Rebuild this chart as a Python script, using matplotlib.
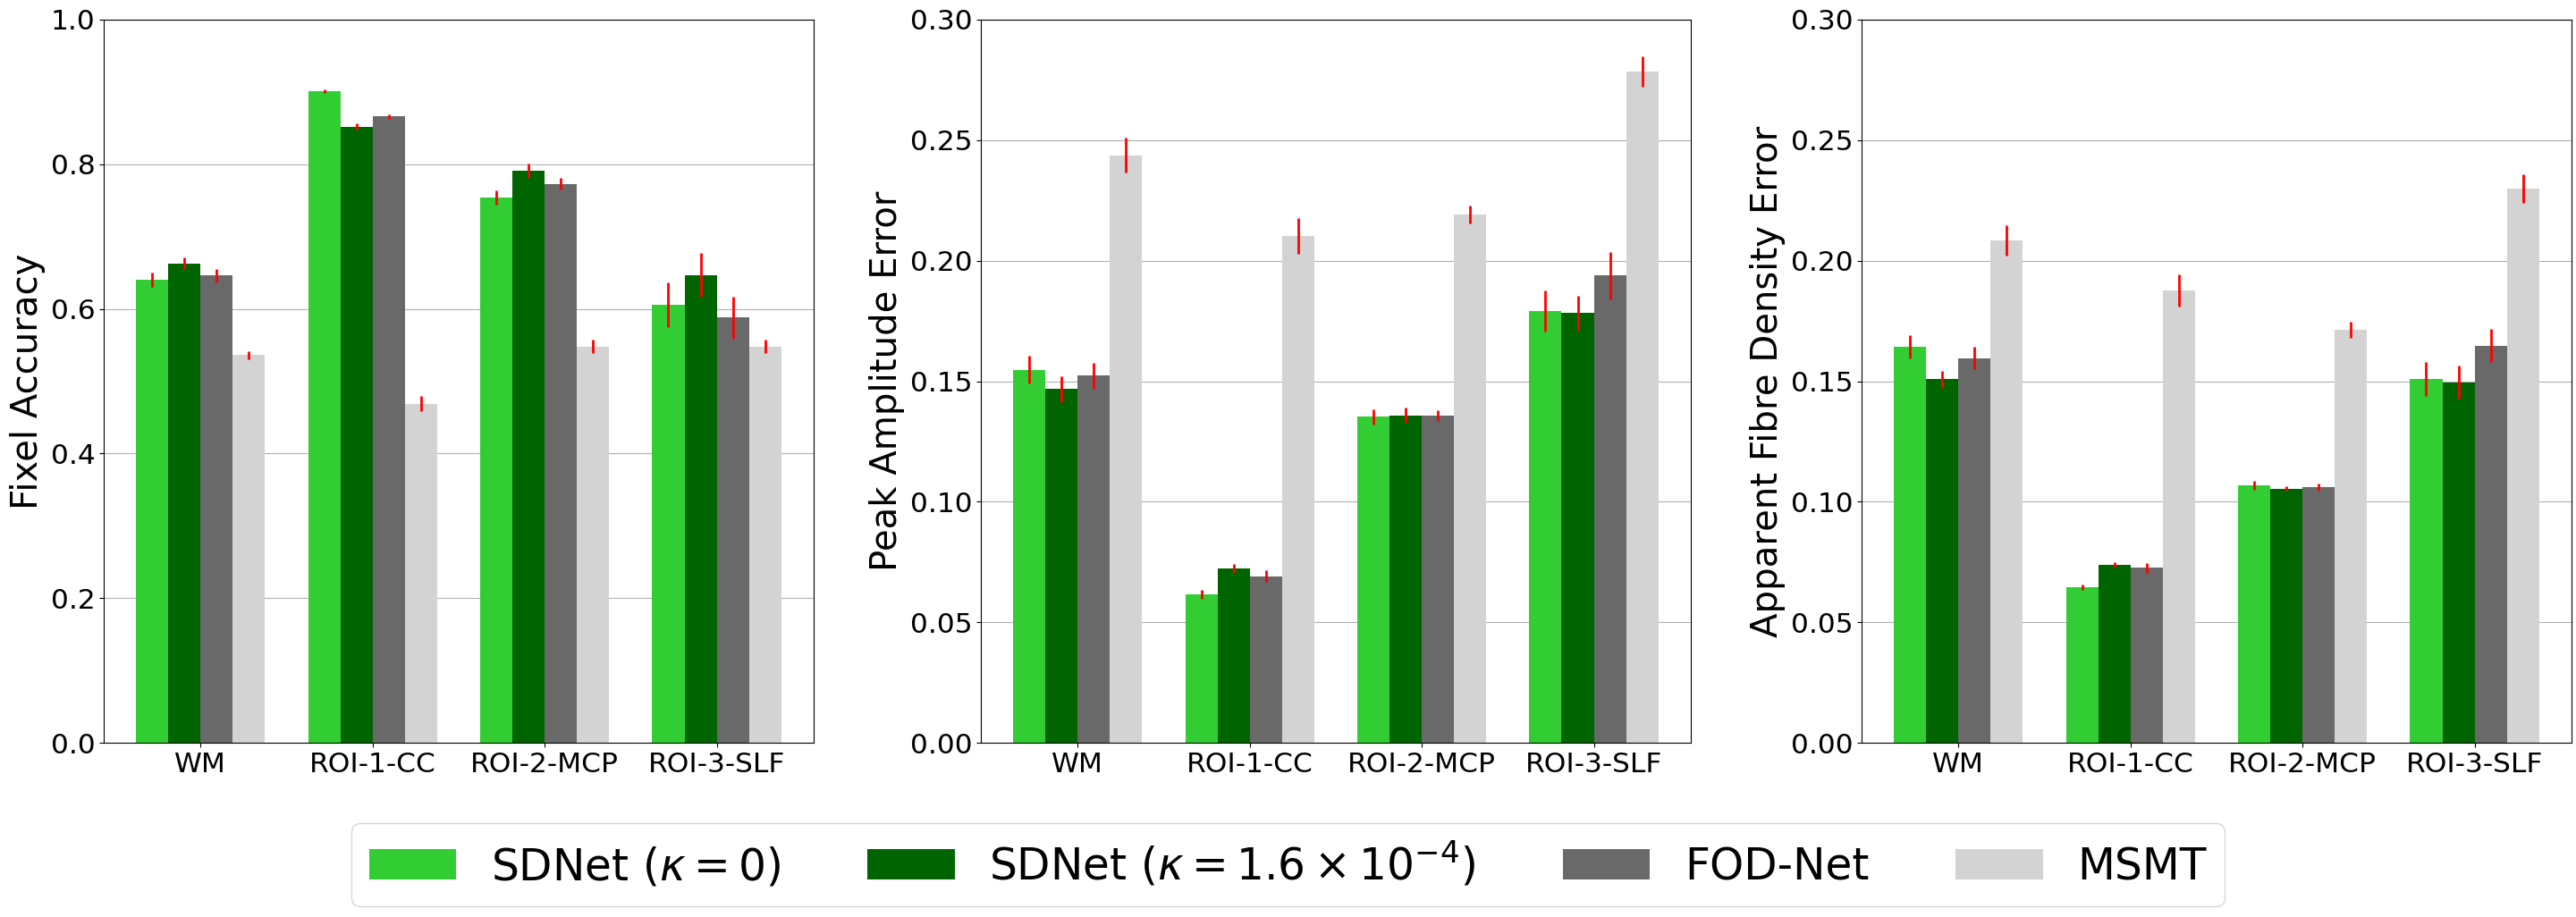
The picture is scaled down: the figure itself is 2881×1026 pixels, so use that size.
import numpy as np
import matplotlib.pyplot as plt

regions = ['WM', 'ROI-1-CC', 'ROI-2-MCP', 'ROI-3-SLF']
methods = [r'SDNet ($\kappa=0$)', r'SDNet ($\kappa=1.6\times10^{-4}$)', 'FOD-Net', 'MSMT']
colours = ['limegreen', 'darkgreen', 'dimgray', 'lightgray']

# rows: methods, cols: regions
fixel_acc = [[0.640, 0.901, 0.754, 0.606],
             [0.663, 0.852, 0.791, 0.647],
             [0.646, 0.866, 0.773, 0.588],
             [0.536, 0.469, 0.548, 0.548]]
fixel_acc_err = [[0.010, 0.002, 0.010, 0.031],
                 [0.008, 0.004, 0.010, 0.030],
                 [0.009, 0.003, 0.008, 0.029],
                 [0.006, 0.010, 0.009, 0.009]]

pae = [[0.1548, 0.0615, 0.1352, 0.1790],
       [0.1467, 0.0724, 0.1358, 0.1782],
       [0.1523, 0.0691, 0.1358, 0.1938],
       [0.2437, 0.2103, 0.2191, 0.2785]]
pae_err = [[0.0056, 0.0018, 0.0031, 0.0086],
           [0.0053, 0.0019, 0.0031, 0.0072],
           [0.0053, 0.0024, 0.0022, 0.0097],
           [0.0073, 0.0074, 0.0036, 0.0064]]

afde = [[0.1642, 0.0645, 0.1068, 0.1508],
        [0.1508, 0.0739, 0.1054, 0.1496],
        [0.1596, 0.0726, 0.1062, 0.1648],
        [0.2084, 0.1876, 0.1713, 0.2299]]
afde_err = [[0.0048, 0.0010, 0.0019, 0.0070],
            [0.0035, 0.0012, 0.0010, 0.0069],
            [0.0047, 0.0021, 0.0015, 0.0070],
            [0.0063, 0.0068, 0.0033, 0.0059]]

panels = [(fixel_acc, fixel_acc_err, 'Fixel Accuracy', 1.0, 0.2),
          (pae, pae_err, 'Peak Amplitude Error', 0.3, 0.05),
          (afde, afde_err, 'Apparent Fibre Density Error', 0.3, 0.05)]

fig = plt.figure(figsize=(28.81, 10.26), dpi=100)
lefts = [0.0403, 0.3808, 0.7227]
x = np.arange(len(regions))
w = 0.1875

for left, (vals, errs, label, ymax, step) in zip(lefts, panels):
    ax = fig.add_axes([left, 0.19, 0.2755, 0.7886])
    ax.set_axisbelow(True)
    ax.grid(axis='y', color='#b0b0b0', linewidth=0.8)
    for i in range(len(methods)):
        ax.bar(x + (i - 1.5) * w, vals[i], w, yerr=errs[i], color=colours[i],
               ecolor='red', error_kw=dict(elinewidth=2), label=methods[i])
    ax.set_xticks(x)
    ax.set_xticklabels(regions)
    ax.set_ylim(0, ymax)
    ticks = np.arange(0, ymax + 1e-9, step)
    ax.set_yticks(ticks)
    if ymax < 1:
        ax.set_yticklabels(['%.2f' % t for t in ticks])
    ax.tick_params(labelsize=22.5)
    ax.set_ylabel(label, fontsize=29)

handles, labs = ax.get_legend_handles_labels()
fig.legend(handles, labs, loc='lower center', bbox_to_anchor=(0.5, 0.0), ncol=4,
           fontsize=35, borderaxespad=0.25, handlelength=2.0, columnspacing=2.0)

plt.savefig('out.png', dpi=100)
